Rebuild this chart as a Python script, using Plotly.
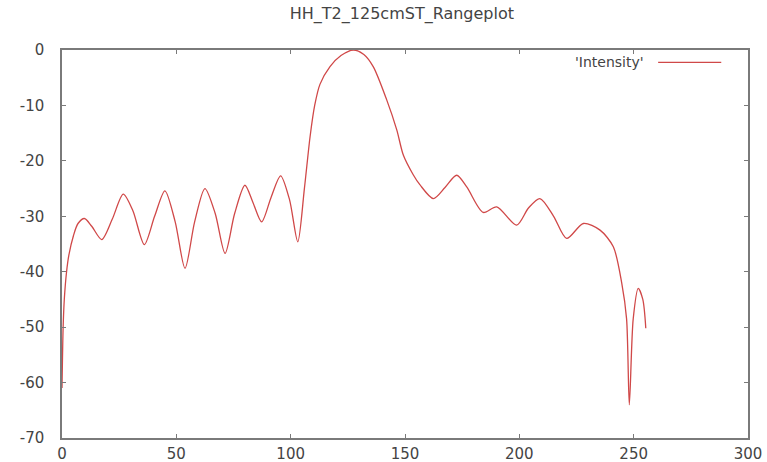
import plotly.graph_objects as go

title_text = "HH_T2_125cmST_Rangeplot"
series_name = "'Intensity'"

range_bin = [0, 0.5, 1, 2, 3, 5, 7, 9.8, 13, 17.4, 22, 26.8, 31, 36, 40.5, 45, 49.5, 53.8,
             58, 62.5, 67, 71.3, 75.5, 80, 83.5, 87.3, 91.5, 95.6, 99.5, 103.1, 106,
             108.5, 110.5, 112.8, 117.2, 122, 127.4, 132, 136.1, 142, 146.4, 149.3,
             153.6, 156.5, 162.4, 167.5, 172.6, 177, 184.2, 190.1, 198.8, 204, 209,
             215, 220.7, 228, 235.3, 241.1, 244.8, 246.9, 248.1, 249.8, 252, 254, 255.3]
intensity = [-61, -50, -45, -40, -37, -33.5, -31.3, -30.4, -31.8, -34.2, -30.5, -26.0,
             -29, -35.1, -30, -25.4, -31, -39.4, -31, -25.0, -29.5, -36.7, -29.5, -24.4,
             -27.5, -31.0, -26.5, -22.7, -27, -34.6, -25, -15.6, -10.0, -6.2, -3.0,
             -1.0, 0, -0.8, -3.0, -9.0, -14.4, -19.0, -22.5, -24.3, -26.8, -24.8,
             -22.6, -24.7, -29.3, -28.3, -31.6, -28.5, -26.8, -30, -34.0, -31.3,
             -32.5, -35.5, -42.1, -48.5, -64.0, -48.5, -43.0, -45, -50.2]

x_ticks = [0, 50, 100, 150, 200, 250, 300]
y_ticks = [0, -10, -20, -30, -40, -50, -60, -70]

line_color = "#d04848"
axis_color = "#7a7a7a"
text_color = "#444444"
font_family = "DejaVu Sans"

fig = go.Figure()
fig.add_trace(go.Scatter(
    x=range_bin, y=intensity, mode="lines", name=series_name,
    line=dict(color=line_color, width=1.3, shape="spline", smoothing=0.8),
    showlegend=False,
))

axis_common = dict(
    showline=True, linecolor=axis_color, linewidth=1.5, mirror="ticks",
    ticks="inside", ticklen=4, tickcolor=axis_color, tickwidth=1.2,
    showgrid=False, zeroline=False, automargin=False,
    tickfont=dict(family=font_family, size=15, color=text_color),
)

fig.update_xaxes(range=[0, 300], tickvals=x_ticks, ticktext=[str(v) for v in x_ticks],
                 ticklabelstandoff=1, **axis_common)
fig.update_yaxes(range=[-70, 0], tickvals=y_ticks, ticktext=[str(v) for v in y_ticks],
                 ticklabelstandoff=13, **axis_common)

# gnuplot-style key: text followed by line sample
fig.add_annotation(xref="paper", yref="paper", x=0.851, y=0.968, xanchor="right",
                   yanchor="middle", text=series_name, showarrow=False,
                   font=dict(family=font_family, size=14, color=text_color))
fig.add_shape(type="line", xref="paper", yref="paper", x0=0.869, x1=0.961,
              y0=0.968, y1=0.968, line=dict(color=line_color, width=1.3))

fig.update_layout(
    width=767, height=462,
    margin=dict(l=62, r=19, t=50, b=24),
    paper_bgcolor="white", plot_bgcolor="white",
    title=dict(text=title_text, x=0.524, xanchor="center", y=0.972, yanchor="middle",
               font=dict(family=font_family, size=16, color=text_color)),
)

fig.write_html("out.html")
